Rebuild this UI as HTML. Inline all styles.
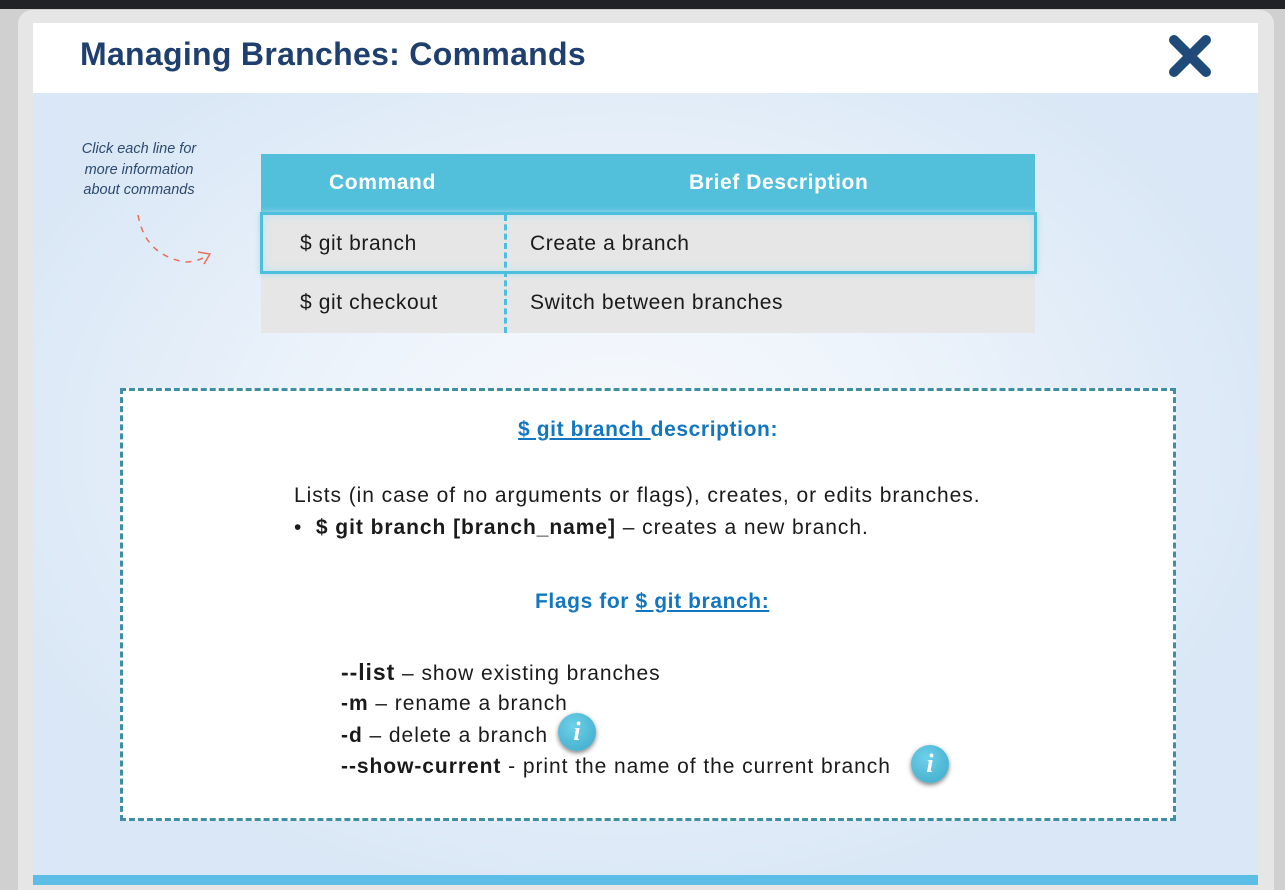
<!DOCTYPE html>
<html><head><meta charset="utf-8"><style>
*{margin:0;padding:0;box-sizing:border-box}
body{width:1285px;height:885px;overflow:hidden;background:#d0d0d0;font-family:"Liberation Sans",sans-serif;position:relative}
.abs{position:absolute}
.t{position:absolute;white-space:nowrap;font-size:21px;color:#1a1a1a;letter-spacing:0.6px}
.b{font-size:21px;letter-spacing:0.95px}
</style></head><body>
<div class="abs" style="left:0;top:0;width:1285px;height:9px;background:#202226"></div>
<div class="abs" style="left:18px;top:10px;width:1256px;height:880px;background:#e6e6e6;border-radius:14px 14px 0 0"></div>
<div class="abs" style="left:33px;top:23px;width:1225px;height:70px;background:#fff"></div>
<div class="t" style="left:80px;top:36px;font-size:32px;font-weight:bold;color:#1f3f6e;letter-spacing:0.3px">Managing Branches: Commands</div>
<svg class="abs" style="left:1168px;top:34px" width="44" height="44" viewBox="0 0 44 44"><path d="M6 6L38 38M38 6L6 38" stroke="#1f4a7a" stroke-width="10" stroke-linecap="round"/></svg>
<div class="abs" style="left:33px;top:93px;width:1225px;height:782px;background:radial-gradient(ellipse 55% 60% at 48% 45%,#f6f9fd 0%,#eef4fb 40%,#d9e7f6 100%)"></div>
<div class="abs" style="left:33px;top:875px;width:1225px;height:10px;background:#5cbde6"></div>
<div class="abs" style="left:60px;top:139px;width:158px;text-align:center;font-style:italic;font-size:14.5px;line-height:20.5px;color:#2d4a6e">Click each line for<br>more information<br>about commands</div>
<svg class="abs" style="left:130px;top:210px" width="90" height="60"><path d="M8 5 Q15 45 55 52 Q68 52 78 45" fill="none" stroke="#e8705a" stroke-width="1.5" stroke-dasharray="6 6"/><path d="M68 42L80 44L74 54" fill="none" stroke="#e8705a" stroke-width="1.5"/></svg>
<div class="abs" style="left:261px;top:154px;width:774px;height:58px;background:#52bfdb"></div>
<div class="t" style="left:329px;top:171px;color:#fff;font-weight:bold">Command</div>
<div class="t" style="left:689px;top:171px;color:#fff;font-weight:bold">Brief Description</div>
<div class="abs" style="left:261px;top:273px;width:774px;height:60px;background:#e6e6e6"></div>
<div class="abs" style="left:260px;top:212px;width:777px;height:62px;background:#e6e6e6;border:3px solid #4cbfdd;box-shadow:inset 0 0 10px #bfe3ef,0 0 6px #a9dced"></div>
<div class="abs" style="left:504px;top:215px;width:0;height:118px;border-left:3px dashed #4cbfdd"></div>
<div class="t" style="left:300px;top:232px">$ git branch</div>
<div class="t" style="left:530px;top:232px">Create a branch</div>
<div class="t" style="left:300px;top:291px">$ git checkout</div>
<div class="t" style="left:530px;top:291px">Switch between branches</div>
<div class="abs" style="left:120px;top:388px;width:1056px;height:433px;background:#fff;border:3px dashed #3e8fa3"></div>
<div class="t" style="left:518px;top:418px;font-weight:bold;color:#1376c0"><u>$ git branch </u>description:</div>
<div class="t b" style="left:294px;top:484px">Lists (in case of no arguments or flags), creates, or edits branches.</div>
<div class="t b" style="left:294px;top:516px">• &nbsp;<b>$ git branch [branch_name]</b> – creates a new branch.</div>
<div class="t" style="left:535px;top:590px;font-weight:bold;color:#1376c0">Flags for <u>$ git branch:</u></div>
<div class="t b" style="left:341px;top:659px"><b style="font-size:23px">--list</b> – show existing branches</div>
<div class="t b" style="left:341px;top:692px"><b>-m</b> – rename a branch</div>
<div class="t b" style="left:341px;top:724px"><b>-d</b> – delete a branch</div>
<div class="t b" style="left:341px;top:755px"><b>--show-current</b> - print the name of the current branch</div>
<div class="abs" style="left:558px;top:713px;width:38px;height:38px;border-radius:50%;background:radial-gradient(circle at 40% 35%,#6fd0ea,#3aa9c7);box-shadow:0 2px 5px rgba(0,0,0,.5);color:#fff;font:italic bold 26px 'Liberation Serif',serif;text-align:center;line-height:38px">i</div>
<div class="abs" style="left:911px;top:745px;width:38px;height:38px;border-radius:50%;background:radial-gradient(circle at 40% 35%,#6fd0ea,#3aa9c7);box-shadow:0 2px 5px rgba(0,0,0,.5);color:#fff;font:italic bold 26px 'Liberation Serif',serif;text-align:center;line-height:38px">i</div>
</body></html>
